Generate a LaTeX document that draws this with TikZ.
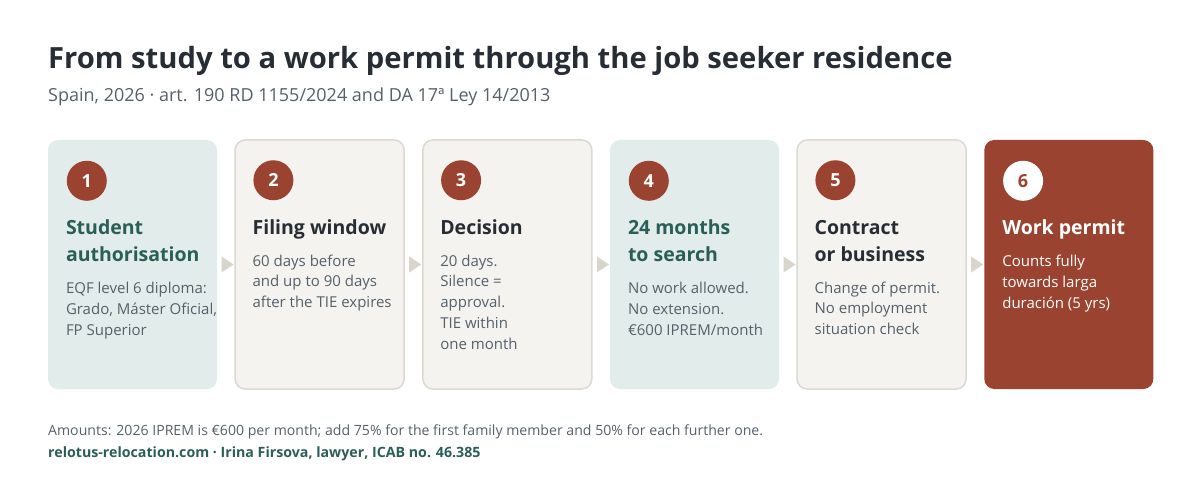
\documentclass[tikz,border=0pt]{standalone}
\usepackage{fontspec}
\setmainfont{Open Sans}
\usetikzlibrary{positioning,calc,shapes.geometric}

\definecolor{rust}{HTML}{9B4331}
\definecolor{tealbg}{HTML}{E2ECEA}
\definecolor{sandbg}{HTML}{F4F3EF}
\definecolor{sandline}{HTML}{DCD9D0}
\definecolor{tealink}{HTML}{2A5E58}
\definecolor{inkdark}{HTML}{262D34}
\definecolor{bodygray}{HTML}{55606B}
\definecolor{tipgray}{HTML}{D9D5CC}

\begin{document}
\begin{tikzpicture}[x=1pt, y=-1pt, node distance=17.2pt,
    card/.style={rectangle, rounded corners=10pt, minimum width=169pt, minimum height=249pt, inner sep=0pt},
    pale/.style={card, fill=tealbg},
    plain/.style={card, fill=sandbg, draw=sandline, line width=1.5pt},
    final/.style={card, fill=rust},
    num/.style={circle, fill=rust, text=white, minimum size=40pt, inner sep=0pt, font=\fontsize{18}{20}\selectfont\bfseries},
    head/.style={anchor=base west, align=left, inner sep=0pt, text=inkdark, font=\fontsize{19.5}{27}\selectfont\bfseries},
    body/.style={anchor=base west, align=left, inner sep=0pt, text=bodygray, font=\fontsize{15}{20.7}\selectfont},
    tip/.style={isosceles triangle, isosceles triangle stretches, fill=tipgray, minimum width=16pt, minimum height=12pt, inner sep=0pt}]

    \useasboundingbox (0,0) rectangle (1200,500);

        % Title
    \node (title) [anchor=base west, inner sep=0pt, text=inkdark, font=\fontsize{29.2}{32}\selectfont\bfseries] at (48,69) {From study to a work permit through the job seeker residence};
    \node (subtitle) [anchor=base west, inner sep=0pt, text=bodygray, font=\fontsize{18}{20}\selectfont] at (48,102) {Spain, 2026 · art. 190 RD 1155/2024 and DA 17ª Ley 14/2013};

        % Cards
    \node (c1) [pale] at (132.5,264.5) {};
    \node (c2) [plain, right=of c1] {};
    \node (c3) [plain, right=of c2] {};
    \node (c4) [pale, right=of c3] {};
    \node (c5) [plain, right=of c4] {};
    \node (c6) [final, right=of c5] {};

        % Numbers
    \node (n1) [num] at ($(c1.north west)+(39,41)$) {1};
    \node (n2) [num] at ($(c2.north west)+(39,41)$) {2};
    \node (n3) [num] at ($(c3.north west)+(39,41)$) {3};
    \node (n4) [num] at ($(c4.north west)+(39,41)$) {4};
    \node (n5) [num] at ($(c5.north west)+(39,41)$) {5};
    \node (n6) [num, fill=white, text=rust] at ($(c6.north west)+(39,41)$) {6};

        % Headings (base = last line)
    \node (h1) [head, text=tealink] at ($(c1.north west)+(18,122)$) {Student\\authorisation};
    \node (h2) [head] at ($(c2.north west)+(18,95)$) {Filing window};
    \node (h3) [head] at ($(c3.north west)+(18,95)$) {Decision};
    \node (h4) [head, text=tealink] at ($(c4.north west)+(18,122)$) {24 months\\to search};
    \node (h5) [head] at ($(c5.north west)+(18,122)$) {Contract\\or business};
    \node (h6) [head, text=white] at ($(c6.north west)+(18,95)$) {Work permit};

        % Details (base = last line)
    \node (b1) [body] at ($(c1.north west)+(18,195.4)$) {EQF level 6 diploma:\\Grado, Máster Oficial,\\FP Superior};
    \node (b2) [body] at ($(c2.north west)+(18,168.4)$) {60 days before\\and up to 90 days\\after the TIE expires};
    \node (b3) [body] at ($(c3.north west)+(18,209.8)$) {20 days.\\Silence =\\approval.\\TIE within\\one month};
    \node (b4) [body] at ($(c4.north west)+(18,195.4)$) {No work allowed.\\No extension.\\€600 IPREM/month};
    \node (b5) [body] at ($(c5.north west)+(18,195.4)$) {Change of permit.\\No employment\\situation check};
    \node (b6) [body, text=white] at ($(c6.north west)+(18,168.4)$) {Counts fully\\towards larga\\duración (5 yrs)};

        % Arrows
    \path (c1) -- node [tip] {} (c2);
    \path (c2) -- node [tip] {} (c3);
    \path (c3) -- node [tip] {} (c4);
    \path (c4) -- node [tip] {} (c5);
    \path (c5) -- node [tip] {} (c6);

        % Notes
    \node (note) [anchor=base west, inner sep=0pt, text=bodygray, font=\fontsize{14.1}{16}\selectfont] at (48,435) {Amounts: 2026 IPREM is €600 per month; add 75\% for the first family member and 50\% for each further one.};
    \node (credit) [anchor=base west, inner sep=0pt, text=tealink, font=\fontsize{14.2}{16}\selectfont\bfseries] at (48,457) {relotus-relocation.com · Irina Firsova, lawyer, ICAB no. 46.385};

\end{tikzpicture}
\end{document}
